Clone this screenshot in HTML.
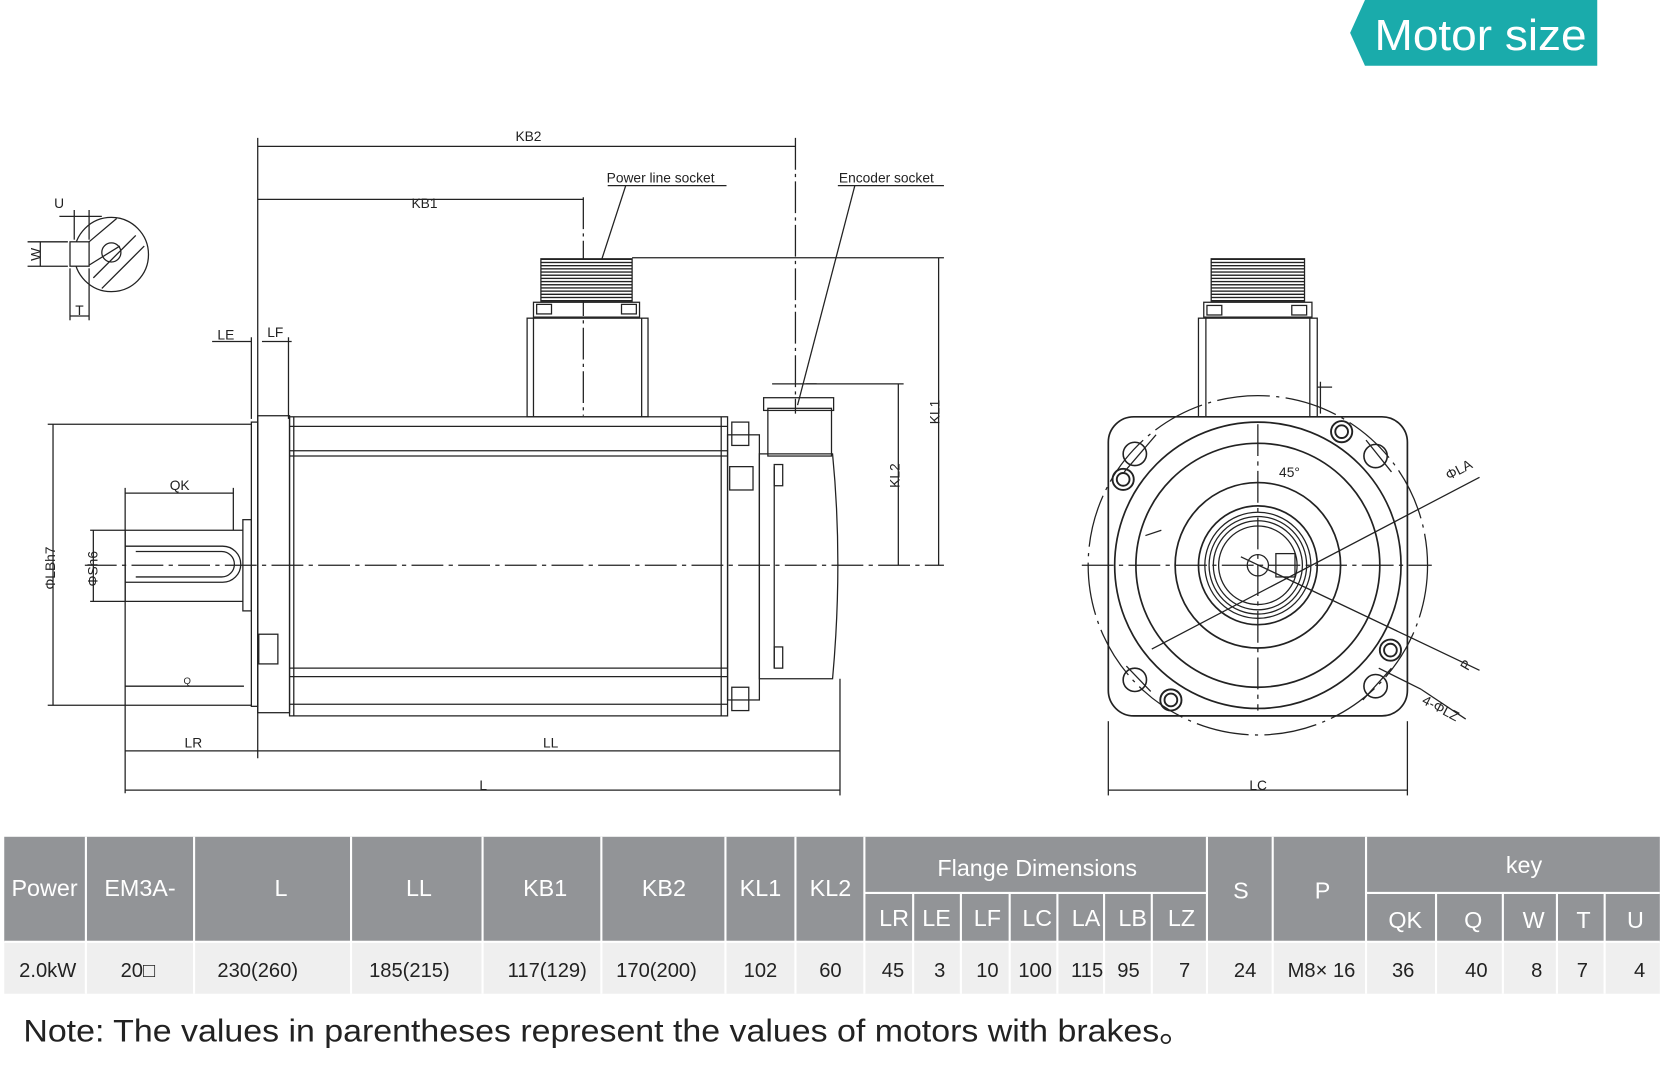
<!DOCTYPE html>
<html><head><meta charset="utf-8"><style>
html,body{margin:0;padding:0;background:#fff;}
svg{display:block}
text{font-family:"Liberation Sans",sans-serif;}
</style></head><body>
<svg width="1663" height="1077" viewBox="0 0 1568 1015.5" preserveAspectRatio="none" xmlns="http://www.w3.org/2000/svg">
<defs>
<pattern id="th" width="4" height="3" patternUnits="userSpaceOnUse"><rect width="4" height="3" fill="#fff"/><line x1="0" y1="1.5" x2="4" y2="1.5" stroke="#222" stroke-width="1.3"/></pattern>
</defs>
<!-- badge -->
<polygon points="1287,0 1506,0 1506,62 1287,62 1273,31" fill="#1aabab"/>
<text x="1296" y="47" font-size="41" fill="#fff" textLength="200" lengthAdjust="spacingAndGlyphs">Motor size</text>

<g stroke="#222" fill="none" stroke-width="1.2">
<!-- key section -->
<circle cx="105" cy="240" r="35"/>
<circle cx="105" cy="238" r="9"/>
<rect x="66" y="228" width="18" height="23" fill="#fff"/>
<line x1="84" y1="228" x2="110" y2="206"/><line x1="88" y1="262" x2="128" y2="222"/><line x1="96" y1="272" x2="136" y2="232"/><line x1="84" y1="250" x2="113" y2="232"/>
<line x1="70" y1="198" x2="70" y2="226"/><line x1="84" y1="198" x2="84" y2="226"/><line x1="56" y1="204" x2="96" y2="204"/>
<line x1="26" y1="228" x2="64" y2="228"/><line x1="26" y1="251" x2="64" y2="251"/><line x1="38" y1="228" x2="38" y2="251"/>
<line x1="66" y1="253" x2="66" y2="302"/><line x1="84" y1="253" x2="84" y2="302"/><line x1="66" y1="298" x2="84" y2="298"/>

<line x1="243" y1="130" x2="243" y2="715"/>
<line x1="243" y1="138" x2="750" y2="138"/>
<line x1="750" y1="130" x2="750" y2="390" stroke-dasharray="30,4,3,4"/>
<line x1="243" y1="188" x2="550" y2="188"/>
<line x1="550" y1="186" x2="550" y2="392" stroke-dasharray="30,4,3,4"/>
<polyline points="573,175 685,175"/><line x1="590" y1="175" x2="563" y2="258"/>
<polyline points="790,175 890,175"/><line x1="806" y1="175" x2="752" y2="382"/>
<line x1="596" y1="243" x2="890" y2="243"/>
<line x1="760" y1="362" x2="852" y2="362"/>
<line x1="885" y1="243" x2="885" y2="533"/>
<line x1="847" y1="362" x2="847" y2="533"/>
<line x1="200" y1="322" x2="237" y2="322"/><line x1="247" y1="322" x2="275" y2="322"/>
<line x1="237" y1="318" x2="237" y2="395"/><line x1="272" y1="318" x2="272" y2="395"/>
<rect x="237" y="398" width="6" height="268"/>
<rect x="243" y="392" width="30" height="280"/>
<rect x="229" y="490" width="8" height="86"/>
<path d="M118,500 H229 M118,567 H229 M118,500 V567"/>
<path d="M118,515 H210 A17,17 0 0 1 210,549 H118"/>
<path d="M128,520 H209 A12,12 0 0 1 209,544 H128"/>
<rect x="244" y="598" width="18" height="28"/>
<rect x="273" y="393" width="413" height="282"/>
<line x1="277" y1="393" x2="277" y2="675"/><line x1="680" y1="393" x2="680" y2="675"/>
<line x1="273" y1="402" x2="686" y2="402"/><line x1="273" y1="425" x2="686" y2="425"/><line x1="273" y1="430" x2="686" y2="430"/>
<line x1="273" y1="630" x2="686" y2="630"/><line x1="273" y1="638" x2="686" y2="638"/><line x1="273" y1="664" x2="686" y2="664"/>
<rect x="686" y="410" width="30" height="250"/>
<rect x="690" y="398" width="16" height="22"/><rect x="690" y="648" width="16" height="22"/>
<rect x="688" y="440" width="22" height="22"/>
<path d="M716,428 H785 Q795,530 785,640 H716 Z"/>
<line x1="730" y1="440" x2="730" y2="630"/>
<rect x="730" y="438" width="8" height="20"/><rect x="730" y="610" width="8" height="20"/>
<rect x="724" y="385" width="60" height="45"/>
<rect x="720" y="375" width="66" height="12"/>
<line x1="728" y1="362" x2="770" y2="362"/>
<rect x="510" y="244" width="86" height="40" fill="url(#th)"/>
<rect x="503" y="285" width="100" height="14"/>
<rect x="506" y="287" width="14" height="9"/><rect x="586" y="287" width="14" height="9"/>
<rect x="497" y="300" width="114" height="93"/>
<line x1="503" y1="300" x2="503" y2="393"/><line x1="605" y1="300" x2="605" y2="393"/>
<line x1="80" y1="533" x2="890" y2="533" stroke-dasharray="30,5,4,5"/>
<line x1="45" y1="400" x2="237" y2="400"/><line x1="45" y1="665" x2="237" y2="665"/>
<line x1="50" y1="400" x2="50" y2="665"/>
<line x1="85" y1="500" x2="118" y2="500"/><line x1="85" y1="567" x2="118" y2="567"/>
<line x1="88" y1="500" x2="88" y2="567"/>
<line x1="118" y1="460" x2="118" y2="748"/>
<line x1="220" y1="460" x2="220" y2="500"/>
<line x1="118" y1="465" x2="220" y2="465"/>
<line x1="118" y1="647" x2="230" y2="647"/>
<line x1="118" y1="708" x2="243" y2="708"/><line x1="243" y1="708" x2="792" y2="708"/>
<line x1="792" y1="640" x2="792" y2="750"/>
<line x1="118" y1="745" x2="792" y2="745"/>

<rect x="1045" y="393" width="282" height="282" rx="24" stroke-width="1.6"/>
<rect x="1142" y="244" width="88" height="40" fill="url(#th)"/>
<rect x="1135" y="285" width="102" height="14"/>
<rect x="1138" y="288" width="14" height="9"/><rect x="1218" y="288" width="14" height="9"/>
<rect x="1130" y="300" width="112" height="93"/>
<line x1="1137" y1="300" x2="1137" y2="393"/><line x1="1235" y1="300" x2="1235" y2="393"/>
<path d="M1242,365 h14 M1245,360 v30"/>
<circle cx="1186" cy="533" r="160" stroke-dasharray="50,6,3,6"/>
<circle cx="1186" cy="533" r="135" stroke-width="1.6"/>
<circle cx="1186" cy="533" r="115" stroke-width="1.6"/>
<circle cx="1186" cy="533" r="78" stroke-width="1.6"/>
<circle cx="1186" cy="533" r="56" stroke-width="1.6"/>
<circle cx="1186" cy="533" r="50"/><circle cx="1186" cy="533" r="46"/><circle cx="1186" cy="533" r="42"/><circle cx="1186" cy="533" r="37"/>
<circle cx="1186" cy="533" r="10"/>
<rect x="1203" y="522" width="18" height="22"/>
<line x1="1020" y1="533" x2="1350" y2="533" stroke-dasharray="30,5,4,5"/>
<line x1="1186" y1="400" x2="1186" y2="670" stroke-dasharray="30,5,4,5"/>
<line x1="1095" y1="500" x2="1080" y2="505"/>
<line x1="1086" y1="612" x2="1395" y2="450"/>
<line x1="1170" y1="525" x2="1395" y2="632"/>
<circle cx="1070" cy="428" r="11" stroke-width="1.5"/><line x1="1060" y1="445" x2="1090" y2="410"/>
<circle cx="1297" cy="430" r="11" stroke-width="1.5"/><line x1="1288" y1="415" x2="1312" y2="445"/>
<circle cx="1070" cy="641" r="11" stroke-width="1.5"/><line x1="1062" y1="628" x2="1085" y2="652"/>
<circle cx="1297" cy="647" r="11" stroke-width="1.5"/><line x1="1285" y1="660" x2="1312" y2="630"/>
<g stroke-width="1.8"><circle cx="1059" cy="452" r="10"/><circle cx="1059" cy="452" r="6"/>
<circle cx="1265" cy="407" r="10"/><circle cx="1265" cy="407" r="6"/>
<circle cx="1311" cy="613" r="10"/><circle cx="1311" cy="613" r="6"/>
<circle cx="1104" cy="660" r="10"/><circle cx="1104" cy="660" r="6"/></g>
<line x1="1340" y1="650" x2="1382" y2="678"/><line x1="1300" y1="630" x2="1340" y2="650"/>
<line x1="1045" y1="680" x2="1045" y2="750"/><line x1="1327" y1="680" x2="1327" y2="750"/>
<line x1="1045" y1="745" x2="1327" y2="745"/>
</g>

<g font-size="13" fill="#222">
<text x="486" y="133">KB2</text><text x="388" y="196">KB1</text>
<text x="572" y="172">Power line socket</text><text x="791" y="172">Encoder socket</text>
<text x="205" y="320">LE</text><text x="252" y="318">LF</text>
<text x="160" y="462">QK</text><text x="173" y="645" font-size="9">Q</text>
<text x="174" y="705">LR</text><text x="512" y="705">LL</text><text x="452" y="745">L</text>
<text x="51" y="196">U</text><text x="71" y="297">T</text>
<text x="0" y="0" transform="translate(38,246) rotate(-90)">W</text>
<text x="0" y="0" transform="translate(52,556) rotate(-90)">ΦLBh7</text>
<text x="0" y="0" transform="translate(92,553) rotate(-90)">ΦSh6</text>
<text x="0" y="0" transform="translate(886,400) rotate(-90)">KL1</text>
<text x="0" y="0" transform="translate(848,460) rotate(-90)">KL2</text>
<text x="1206" y="450">45°</text>
<text x="0" y="0" transform="translate(1366,453) rotate(-28)">ΦLA</text>
<text x="0" y="0" transform="translate(1384,633) rotate(-60)">P</text>
<text x="0" y="0" transform="translate(1340,663) rotate(28)">4-ΦLZ</text>
<text x="1178" y="745">LC</text>
</g>

<rect x="4" y="789" width="1561" height="99" fill="#929497"/>
<rect x="4" y="888" width="1561" height="49" fill="#efefef"/>
<g stroke="#fff" stroke-width="2">
<line x1="815" y1="842" x2="1138" y2="842"/><line x1="1288" y1="842" x2="1565" y2="842"/>
<line x1="4" y1="888" x2="1565" y2="888"/>
<line x1="81" y1="789" x2="81" y2="937"/><line x1="183" y1="789" x2="183" y2="937"/><line x1="331" y1="789" x2="331" y2="937"/>
<line x1="455" y1="789" x2="455" y2="937"/><line x1="567" y1="789" x2="567" y2="937"/><line x1="684" y1="789" x2="684" y2="937"/>
<line x1="750" y1="789" x2="750" y2="937"/><line x1="815" y1="789" x2="815" y2="937"/>
<line x1="861" y1="842" x2="861" y2="937"/><line x1="906" y1="842" x2="906" y2="937"/><line x1="952" y1="842" x2="952" y2="937"/>
<line x1="997" y1="842" x2="997" y2="937"/><line x1="1041" y1="842" x2="1041" y2="937"/><line x1="1086" y1="842" x2="1086" y2="937"/>
<line x1="1138" y1="789" x2="1138" y2="937"/><line x1="1200" y1="789" x2="1200" y2="937"/><line x1="1288" y1="789" x2="1288" y2="937"/>
<line x1="1354" y1="842" x2="1354" y2="937"/><line x1="1417" y1="842" x2="1417" y2="937"/><line x1="1468" y1="842" x2="1468" y2="937"/><line x1="1513" y1="842" x2="1513" y2="937"/>
</g>
<g font-size="22" fill="#fff" text-anchor="middle">
<text x="42" y="845">Power</text><text x="132" y="845">EM3A-</text><text x="265" y="845">L</text><text x="395" y="845">LL</text>
<text x="514" y="845">KB1</text><text x="626" y="845">KB2</text><text x="717" y="845">KL1</text><text x="783" y="845">KL2</text>
<text x="978" y="826">Flange Dimensions</text><text x="1170" y="847">S</text><text x="1247" y="847">P</text><text x="1437" y="823">key</text>
<text x="843" y="873">LR</text><text x="883" y="873">LE</text><text x="931" y="873">LF</text><text x="978" y="873">LC</text><text x="1024" y="873">LA</text><text x="1068" y="873">LB</text><text x="1114" y="873">LZ</text>
<text x="1325" y="875">QK</text><text x="1389" y="875">Q</text><text x="1446" y="875">W</text><text x="1493" y="875">T</text><text x="1542" y="875">U</text>
</g>
<g font-size="19" fill="#222" text-anchor="middle">
<text x="45" y="921">2.0kW</text><text x="130" y="921">20□</text><text x="243" y="921">230(260)</text><text x="386" y="921">185(215)</text>
<text x="516" y="921">117(129)</text><text x="619" y="921">170(200)</text><text x="717" y="921">102</text><text x="783" y="921">60</text>
<text x="842" y="921">45</text><text x="886" y="921">3</text><text x="931" y="921">10</text><text x="976" y="921">100</text><text x="1025" y="921">115</text><text x="1064" y="921">95</text><text x="1117" y="921">7</text>
<text x="1174" y="921">24</text><text x="1246" y="921">M8× 16</text><text x="1323" y="921">36</text><text x="1392" y="921">40</text><text x="1449" y="921">8</text><text x="1492" y="921">7</text><text x="1546" y="921">4</text>
</g>
<text x="22" y="982" font-size="30" fill="#222" textLength="1103" lengthAdjust="spacingAndGlyphs">Note: The values in parentheses represent the values of motors with brakes。</text>
</svg>
</body></html>
